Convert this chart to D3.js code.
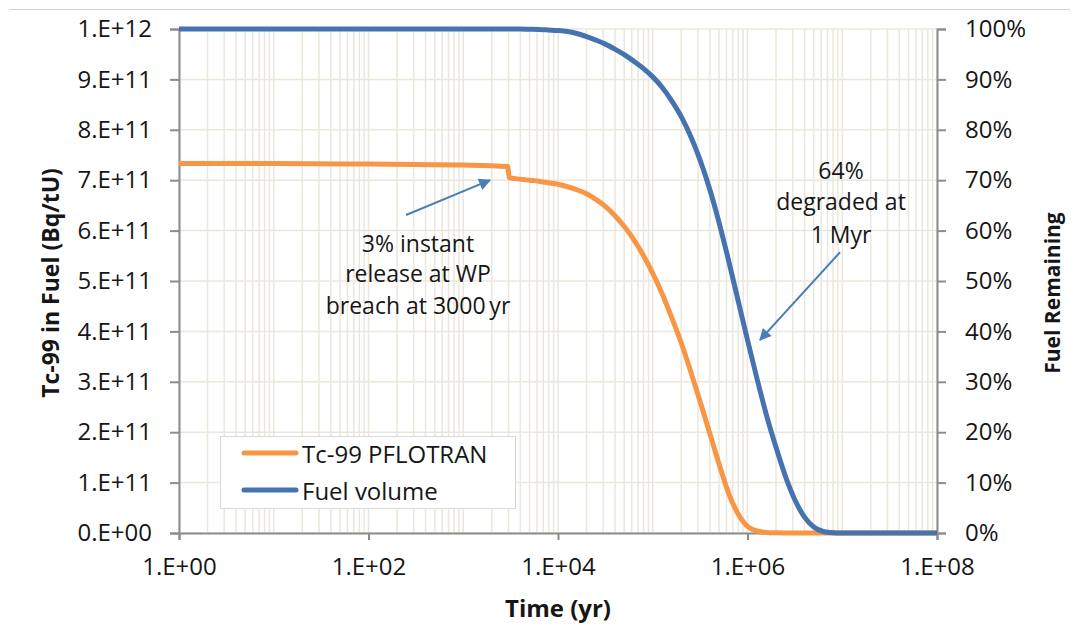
<!DOCTYPE html>
<html><head><meta charset="utf-8">
<script src="https://cdn.jsdelivr.net/npm/d3@7"></script>
<style>
html,body{margin:0;padding:0;background:#fff;}
text{font-family:"Open Sans",sans-serif;fill:#161616;}
</style></head>
<body><svg id="chart" width="1075" height="627"></svg>
<script>
// ---- data ----
const tcTimes  = [1, 10, 100, 1000, 2950, 3050, 3.98e3, 5.01e3, 6.31e3, 7.94e3, 1e4, 1.26e4, 1.58e4, 2.00e4, 2.51e4, 3.16e4, 3.98e4, 5.01e4, 6.31e4, 7.94e4, 1e5, 1.26e5, 1.58e5, 2.00e5, 2.51e5, 3.16e5, 3.98e5, 5.01e5, 6.31e5, 7.94e5, 1e6, 1.26e6, 1.58e6, 2.00e6, 2.51e6, 1e7, 1e8];
const tcValues = [7.33e11, 7.33e11, 7.32e11, 7.30e11, 7.27e11, 7.05e11, 7.02e11, 7.00e11, 6.98e11, 6.95e11, 6.92e11, 6.87e11, 6.81e11, 6.73e11, 6.62e11, 6.48e11, 6.30e11, 6.08e11, 5.82e11, 5.51e11, 5.15e11, 4.74e11, 4.28e11, 3.77e11, 3.21e11, 2.61e11, 1.99e11, 1.37e11, 0.79e11, 0.38e11, 0.13e11, 0.04e11, 0.012e11, 0.003e11, 0, 0, 0];
const fuelTimes  = [1, 10, 100, 1000, 3.98e3, 5.01e3, 6.31e3, 7.94e3, 1e4, 1.26e4, 1.58e4, 2.00e4, 2.51e4, 3.16e4, 3.98e4, 5.01e4, 6.31e4, 7.94e4, 1e5, 1.26e5, 1.58e5, 2.00e5, 2.51e5, 3.16e5, 3.98e5, 5.01e5, 6.31e5, 7.94e5, 1e6, 1.26e6, 1.58e6, 2.00e6, 2.51e6, 3.16e6, 3.98e6, 5.01e6, 6.31e6, 7.94e6, 1e7, 1e8];
const fuelValues = [1, 1, 1, 1, 1, 0.9995, 0.999, 0.998, 0.997, 0.995, 0.991, 0.985, 0.978, 0.970, 0.960, 0.949, 0.936, 0.922, 0.905, 0.884, 0.858, 0.826, 0.787, 0.740, 0.683, 0.616, 0.541, 0.462, 0.383, 0.306, 0.235, 0.170, 0.113, 0.066, 0.032, 0.012, 0.003, 0.0005, 0, 0];
const seriesNames = ["Tc-99 PFLOTRAN", "Fuel volume"];
const xTickValues = [1, 1e2, 1e4, 1e6, 1e8];
const xTickLabels = ["1.E+00", "1.E+02", "1.E+04", "1.E+06", "1.E+08"];
const yLeftTicks  = [0, 1e11, 2e11, 3e11, 4e11, 5e11, 6e11, 7e11, 8e11, 9e11, 1e12];
const yLeftLabels = ["0.E+00","1.E+11","2.E+11","3.E+11","4.E+11","5.E+11","6.E+11","7.E+11","8.E+11","9.E+11","1.E+12"];
const yRightTicks = [0, .1, .2, .3, .4, .5, .6, .7, .8, .9, 1];
const yRightLabels = ["0%","10%","20%","30%","40%","50%","60%","70%","80%","90%","100%"];
const xTitle = "Time (yr)", yLeftTitle = "Tc-99 in Fuel (Bq/tU)", yRightTitle = "Fuel Remaining";
// annotations (data coordinates)
const ann1Lines = ["3% instant", "release at WP", "breach at 3000\u2009yr"];
const ann1Text = {t: 333, v: [5.75e11, 5.15e11, 4.52e11]};
const ann1Arrow = {t0: 249, v0: 6.31e11, t1: 1915, v1: 7.0e11};
const ann2Lines = ["64%", "degraded at", "1 Myr"];
const ann2Text = {t: 9.7e6, f: [0.72, 0.658, 0.594]};
const ann2Arrow = {t0: 9.47e6, f0: 0.557, t1: 1.355e6, f1: 0.383};

// ---- layout ----
const svg = d3.select("#chart");
const m = {l: 179, r: 937, t: 29, b: 533};
const x = d3.scaleLog().domain([1, 1e8]).range([m.l, m.r]);
const yL = d3.scaleLinear().domain([0, 1e12]).range([m.b, m.t]);
const yR = d3.scaleLinear().domain([0, 1]).range([m.b, m.t]);
const orange = "#f79646", blue = "#4672b0", axisCol = "#8c8c8c", gridCol = "#ebe7dc";

svg.append("line").attr("x1", 9).attr("x2", 1070).attr("y1", 9.5).attr("y2", 9.5)
  .attr("stroke", "#d4d4d4").attr("stroke-width", 1);

// grid
const minor = [];
for (let e = 0; e < 8; e++) for (let k = 1; k <= 9; k++) minor.push(k * Math.pow(10, e));
minor.push(1e8);
svg.append("g").selectAll("line").data(minor).join("line")
  .attr("x1", d => x(d)).attr("x2", d => x(d)).attr("y1", m.t).attr("y2", m.b)
  .attr("stroke", gridCol).attr("stroke-width", 1.5);
svg.append("g").selectAll("line").data(yLeftTicks).join("line")
  .attr("x1", m.l).attr("x2", m.r).attr("y1", d => yL(d)).attr("y2", d => yL(d))
  .attr("stroke", gridCol).attr("stroke-width", 1.5);

// axes
const fs = 24;
const axL = svg.append("g").attr("transform", `translate(${m.l},0)`)
  .call(d3.axisLeft(yL).tickValues(yLeftTicks).tickFormat((d,i) => yLeftLabels[i]).tickSizeOuter(0).tickSize(9).tickPadding(18));
const axR = svg.append("g").attr("transform", `translate(${m.r},0)`)
  .call(d3.axisRight(yR).tickValues(yRightTicks).tickFormat((d,i) => yRightLabels[i]).tickSizeOuter(0).tickSize(9).tickPadding(19));
const axB = svg.append("g").attr("transform", `translate(0,${m.b})`)
  .call(d3.axisBottom(x).tickValues(xTickValues).tickFormat((d,i) => xTickLabels[i]).tickSizeOuter(0).tickSize(7).tickPadding(18));
[axL, axR, axB].forEach(a => {
  a.select(".domain").attr("stroke", axisCol).attr("stroke-width", 2);
  a.selectAll(".tick line").attr("stroke", axisCol).attr("stroke-width", 2);
  a.selectAll(".tick text").attr("font-family", "Open Sans").attr("font-size", fs).attr("fill", "#161616");
});

// titles
svg.append("text").attr("x", x(1e4)).attr("y", 607).attr("text-anchor", "middle")
  .attr("dominant-baseline", "central").attr("font-weight", "bold").attr("font-size", 24).text(xTitle);
svg.append("text").attr("transform", "translate(50,283) rotate(-90)").attr("text-anchor", "middle")
  .attr("dominant-baseline", "central").attr("font-weight", "bold").attr("font-size", 23).text(yLeftTitle);
svg.append("text").attr("transform", "translate(1052,293) rotate(-90)").attr("text-anchor", "middle")
  .attr("dominant-baseline", "central").attr("font-weight", "bold").attr("font-size", 21).text(yRightTitle);

// lines
const tcData = tcTimes.map((t, i) => [t, tcValues[i]]);
const fuelData = fuelTimes.map((t, i) => [t, fuelValues[i]]);
svg.append("path").datum(tcData)
  .attr("d", d3.line().x(d => x(d[0])).y(d => yL(d[1])).curve(d3.curveMonotoneX))
  .attr("fill", "none").attr("stroke", orange).attr("stroke-width", 5).attr("stroke-linejoin", "round");
svg.append("path").datum(fuelData)
  .attr("d", d3.line().x(d => x(d[0])).y(d => yR(d[1])).curve(d3.curveMonotoneX))
  .attr("fill", "none").attr("stroke", blue).attr("stroke-width", 5).attr("stroke-linejoin", "round");

// annotations
const arrowCol = "#4a7ebb";
svg.append("defs").append("marker").attr("id", "ah").attr("viewBox", "0 0 10 10")
  .attr("refX", 9).attr("refY", 5).attr("markerWidth", 7).attr("markerHeight", 6)
  .attr("markerUnits", "strokeWidth").attr("orient", "auto")
  .append("path").attr("d", "M0,0 L10,5 L0,10 Z").attr("fill", arrowCol);
svg.append("line").attr("x1", x(ann1Arrow.t0)).attr("y1", yL(ann1Arrow.v0))
  .attr("x2", x(ann1Arrow.t1)).attr("y2", yL(ann1Arrow.v1))
  .attr("stroke", arrowCol).attr("stroke-width", 2).attr("marker-end", "url(#ah)");
svg.append("line").attr("x1", x(ann2Arrow.t0)).attr("y1", yR(ann2Arrow.f0))
  .attr("x2", x(ann2Arrow.t1)).attr("y2", yR(ann2Arrow.f1))
  .attr("stroke", arrowCol).attr("stroke-width", 2).attr("marker-end", "url(#ah)");
ann1Lines.forEach((s, i) => svg.append("text").attr("x", x(ann1Text.t)).attr("y", yL(ann1Text.v[i]))
  .attr("text-anchor", "middle").attr("dominant-baseline", "central").attr("font-size", 23).text(s));
ann2Lines.forEach((s, i) => svg.append("text").attr("x", x(ann2Text.t)).attr("y", yR(ann2Text.f[i]))
  .attr("text-anchor", "middle").attr("dominant-baseline", "central").attr("font-size", 23).text(s));

// legend
const lg = svg.append("g");
lg.append("rect").attr("x", 220.5).attr("y", 436.5).attr("width", 295).attr("height", 72)
  .attr("fill", "#fff").attr("stroke", "#d9d9d9").attr("stroke-width", 1);
[orange, blue].forEach((c, i) => {
  const yy = 453 + i * 37;
  lg.append("line").attr("x1", 244).attr("x2", 296).attr("y1", yy).attr("y2", yy)
    .attr("stroke", c).attr("stroke-width", 5).attr("stroke-linecap", "round");
  lg.append("text").attr("x", 302).attr("y", yy).attr("dominant-baseline", "central")
    .attr("font-size", fs).text(seriesNames[i]);
});
</script></body></html>
